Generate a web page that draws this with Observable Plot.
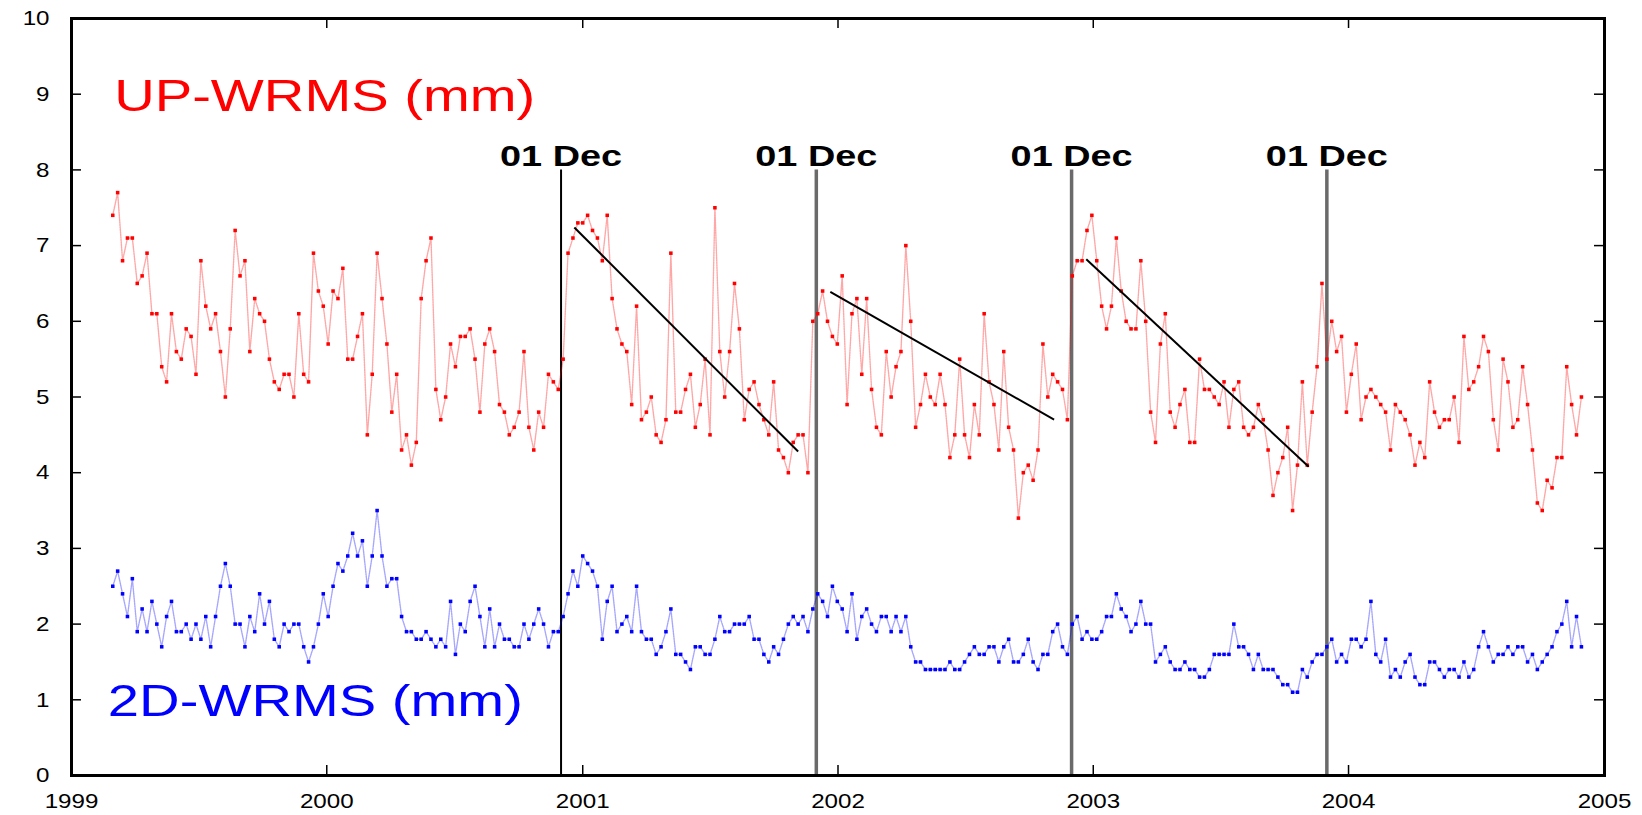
<!DOCTYPE html>
<html><head><meta charset="utf-8">
<script src="https://cdn.jsdelivr.net/npm/d3@7"></script>
<script src="https://cdn.jsdelivr.net/npm/@observablehq/plot@0.6"></script>
<style>
html,body{margin:0;padding:0;background:#fff;}
#chart svg{display:block;}
</style>
</head><body><div id="chart"></div>
<script>
// ---- data ----
const firstWeek = "1999-03-01"; // weekly solutions
const upWrms = [
7.4,7.7,6.8,7.1,7.1,6.5,6.6,6.9,6.1,6.1,5.4,5.2,6.1,5.6,5.5,5.9,5.8,5.3,6.8,6.2,5.9,6.1,5.6,5.0,5.9,7.2,6.6,6.8,5.6,6.3,6.1,6.0,5.5,5.2,5.1,5.3,5.3,5.0,6.1,5.3,5.2,6.9,6.4,6.2,5.7,6.4,6.3,6.7,5.5,5.5,5.8,6.1,
4.5,5.3,6.9,6.3,5.7,4.8,5.3,4.3,4.5,4.1,4.4,6.3,6.8,7.1,5.1,4.7,5.0,5.7,5.4,5.8,5.8,5.9,5.5,4.8,5.7,5.9,5.6,4.9,4.8,4.5,4.6,4.8,5.6,4.6,4.3,4.8,4.6,5.3,5.2,5.1,5.5,6.9,7.1,7.3,7.3,7.4,7.2,7.1,6.8,7.4,6.3,5.9,5.7,
5.6,4.9,6.2,4.7,4.8,5.0,4.5,4.4,4.7,6.9,4.8,4.8,5.1,5.3,4.6,4.9,5.5,4.5,7.5,5.6,5.0,5.6,6.5,5.9,4.7,5.1,5.2,4.9,4.7,4.5,5.2,4.3,4.2,4.0,4.4,4.5,4.5,4.0,6.0,6.1,6.4,6.0,5.8,5.7,6.6,4.9,6.1,6.3,5.3,6.3,5.1,4.6,4.5,
5.6,5.0,5.4,5.6,7.0,6.0,4.6,4.9,5.3,5.0,4.9,5.3,4.9,4.2,4.5,5.5,4.5,4.2,4.9,4.5,6.1,5.2,4.9,4.3,5.6,4.6,4.3,3.4,4.0,4.1,3.9,4.3,5.7,5.0,5.3,5.2,5.1,4.7,6.6,6.8,6.8,7.2,7.4,6.8,6.2,5.9,6.2,7.1,6.4,6.0,5.9,5.9,6.8,
6.0,4.8,4.4,5.7,6.1,4.8,4.6,4.9,5.1,4.4,4.4,5.5,5.1,5.1,5.0,4.9,5.2,4.6,5.1,5.2,4.6,4.5,4.6,4.9,4.7,4.3,3.7,4.0,4.2,4.6,3.5,4.1,5.2,4.1,4.8,5.4,6.5,5.5,6.0,5.6,5.8,4.8,5.3,5.7,4.7,5.0,5.1,5.0,4.9,4.8,4.3,4.9,4.8,
4.7,4.5,4.1,4.4,4.2,5.2,4.8,4.6,4.7,4.7,5.0,4.4,5.8,5.1,5.2,5.4,5.8,5.6,4.7,4.3,5.5,5.2,4.6,4.7,5.4,4.9,4.3,3.6,3.5,3.9,3.8,4.2,4.2,5.4,4.9,4.5,5.0
];
const hzWrms = [
2.5,2.7,2.4,2.1,2.6,1.9,2.2,1.9,2.3,2.0,1.7,2.1,2.3,1.9,1.9,2.0,1.8,2.0,1.8,2.1,1.7,2.1,2.5,2.8,2.5,2.0,2.0,1.7,2.1,1.9,2.4,2.0,2.3,1.8,1.7,2.0,1.9,2.0,2.0,1.7,1.5,1.7,2.0,2.4,2.1,2.5,2.8,2.7,2.9,3.2,2.9,3.1,
2.5,2.9,3.5,2.9,2.5,2.6,2.6,2.1,1.9,1.9,1.8,1.8,1.9,1.8,1.7,1.8,1.7,2.3,1.6,2.0,1.9,2.3,2.5,2.1,1.7,2.2,1.7,2.0,1.8,1.8,1.7,1.7,2.0,1.8,2.0,2.2,2.0,1.7,1.9,1.9,2.1,2.4,2.7,2.5,2.9,2.8,2.7,2.5,1.8,2.3,2.5,1.9,2.0,
2.1,1.9,2.5,1.9,1.8,1.8,1.6,1.7,1.9,2.2,1.6,1.6,1.5,1.4,1.7,1.7,1.6,1.6,1.8,2.1,1.9,1.9,2.0,2.0,2.0,2.1,1.8,1.8,1.6,1.5,1.7,1.6,1.8,2.0,2.1,2.0,2.1,1.9,2.2,2.4,2.3,2.1,2.5,2.3,2.2,1.9,2.4,1.8,2.1,2.2,2.0,1.9,2.1,
2.1,1.9,2.1,1.9,2.1,1.7,1.5,1.5,1.4,1.4,1.4,1.4,1.4,1.5,1.4,1.4,1.5,1.6,1.7,1.6,1.6,1.7,1.7,1.5,1.7,1.8,1.5,1.5,1.6,1.8,1.5,1.4,1.6,1.6,1.9,2.0,1.7,1.6,2.0,2.1,1.8,1.9,1.8,1.8,1.9,2.1,2.1,2.4,2.2,2.1,1.9,2.0,2.3,
2.0,2.0,1.5,1.6,1.7,1.5,1.4,1.4,1.5,1.4,1.4,1.3,1.3,1.4,1.6,1.6,1.6,1.6,2.0,1.7,1.7,1.6,1.4,1.6,1.4,1.4,1.4,1.3,1.2,1.2,1.1,1.1,1.4,1.3,1.5,1.6,1.6,1.7,1.8,1.5,1.6,1.5,1.8,1.8,1.7,1.8,2.3,1.6,1.5,1.8,1.3,1.4,1.3,
1.5,1.6,1.3,1.2,1.2,1.5,1.5,1.4,1.3,1.4,1.4,1.3,1.5,1.3,1.4,1.7,1.9,1.7,1.5,1.6,1.6,1.7,1.6,1.7,1.7,1.5,1.6,1.4,1.5,1.6,1.7,1.9,2.0,2.3,1.7,2.1,1.7
];
const decDates = ["2000-12-01","2001-12-01","2002-12-01","2003-12-01"];
const decLabel = "01 Dec";
const trendStartDates = ["2000-12-20","2001-12-21","2002-12-22"];
const trendStartVals = [7.24, 6.39, 6.82];
const trendEndDates = ["2001-11-05","2002-11-06","2003-11-05"];
const trendEndVals = [4.28, 4.70, 4.08];
const yearTicks = [1999,2000,2001,2002,2003,2004,2005];
const yTicks = [0,1,2,3,4,5,6,7,8,9,10];
const upLabel = "UP-WRMS (mm)";
const hzLabel = "2D-WRMS (mm)";

// ---- build ----
const W = 1642, H = 815;
const M = {top: 18, right: 38, bottom: 40, left: 71};
const PW = W - M.left - M.right, PH = H - M.top - M.bottom;
const t0 = new Date(firstWeek + "T00:00:00Z");
const dates = upWrms.map((_, i) => d3.utcDay.offset(t0, 7 * i));
const upData = upWrms.map((v, i) => ({date: dates[i], v}));
const hzData = hzWrms.map((v, i) => ({date: dates[i], v}));
const decs = decDates.map(d => new Date(d + "T00:00:00Z"));
const trends = trendStartDates.map((d, i) => ({
  x1: new Date(d + "T00:00:00Z"), y1: trendStartVals[i],
  x2: new Date(trendEndDates[i] + "T00:00:00Z"), y2: trendEndVals[i]
}));
const yearDates = yearTicks.map(y => new Date(Date.UTC(y, 0, 1)));
const FONT = "'Liberation Sans', Arial, Helvetica, sans-serif";

const chart = Plot.plot({
  width: W, height: H,
  marginTop: M.top, marginRight: M.right, marginBottom: M.bottom, marginLeft: M.left,
  style: {fontFamily: FONT, background: "#fff", color: "#000"},
  x: {type: "utc", domain: [yearDates[0], yearDates[yearDates.length - 1]]},
  y: {domain: [0, 10]},
  marks: [
    // vertical 01 Dec markers
    Plot.ruleX(decs.slice(0, 1), {x: d => d, y1: 0, y2: 8, stroke: "#000", strokeWidth: 2}),
    Plot.ruleX(decs.slice(1), {x: d => d, y1: 0, y2: 8, stroke: "#6a6a6a", strokeWidth: 3.5}),
    Plot.text(decs, {x: d => d, y: 8.05, text: () => decLabel, textAnchor: "middle", lineAnchor: "bottom",
      fontSize: 29, fontWeight: "bold", fill: "#000", className: "declab"}),
    // series
    Plot.line(upData, {x: "date", y: "v", stroke: "#ff0000", strokeOpacity: 0.35, strokeWidth: 1.4, strokeDasharray: "1.5,1"}),
    Plot.dot(upData, {x: "date", y: "v", symbol: "square", r: 2, fill: "#ff0000", stroke: "none"}),
    Plot.line(hzData, {x: "date", y: "v", stroke: "#0000ff", strokeOpacity: 0.35, strokeWidth: 1.4, strokeDasharray: "1.5,1"}),
    Plot.dot(hzData, {x: "date", y: "v", symbol: "square", r: 2, fill: "#0000ff", stroke: "none"}),
    // trend lines
    Plot.link(trends, {x1: "x1", y1: "y1", x2: "x2", y2: "y2", stroke: "#000", strokeWidth: 2}),
    // labels
    Plot.text([upLabel], {x: new Date(Date.UTC(1999, 2, 3)), y: 8.78, text: d => d, textAnchor: "start", lineAnchor: "bottom",
      fontSize: 44, fill: "#ff0000", className: "uplab"}),
    Plot.text([hzLabel], {x: new Date(Date.UTC(1999, 1, 22)), y: 0.78, text: d => d, textAnchor: "start", lineAnchor: "bottom",
      fontSize: 44, fill: "#0000ff", className: "hzlab"}),
    // axes: labels only
    Plot.axisY(yTicks, {anchor: "left", tickSize: 0, tickPadding: 22, fontSize: 21, label: null, tickFormat: d3.format("d")}),
    Plot.axisX(yearDates, {anchor: "bottom", tickSize: 0, tickPadding: 18, fontSize: 21, label: null, tickFormat: d3.utcFormat("%Y")}),
    // inward ticks
    Plot.tickY(yTicks, {y: d => d, insetRight: PW - 10, stroke: "#000", strokeWidth: 1.5}),
    Plot.tickY(yTicks, {y: d => d, insetLeft: PW - 10, stroke: "#000", strokeWidth: 1.5}),
    Plot.tickX(yearDates, {x: d => d, insetTop: PH - 10, stroke: "#000", strokeWidth: 1.5}),
    Plot.tickX(yearDates, {x: d => d, insetBottom: PH - 10, stroke: "#000", strokeWidth: 1.5}),
    Plot.frame({stroke: "#000", strokeWidth: 3})
  ]
});

document.getElementById("chart").appendChild(chart);
// horizontally stretched lettering, as in the source graphic
const sel = d3.select(chart);
sel.selectAll(".uplab text").attr("textLength", 421).attr("lengthAdjust", "spacingAndGlyphs");
sel.selectAll(".hzlab text").attr("textLength", 415).attr("lengthAdjust", "spacingAndGlyphs");
sel.selectAll(".declab text").attr("textLength", 122).attr("lengthAdjust", "spacingAndGlyphs");
sel.selectAll('g[aria-label="y-axis tick label"] text, g[aria-label="x-axis tick label"] text').each(function() {
  const len = this.getComputedTextLength();
  if (len > 0) d3.select(this).attr("textLength", len * 1.15).attr("lengthAdjust", "spacingAndGlyphs");
});
</script>
</body></html>
